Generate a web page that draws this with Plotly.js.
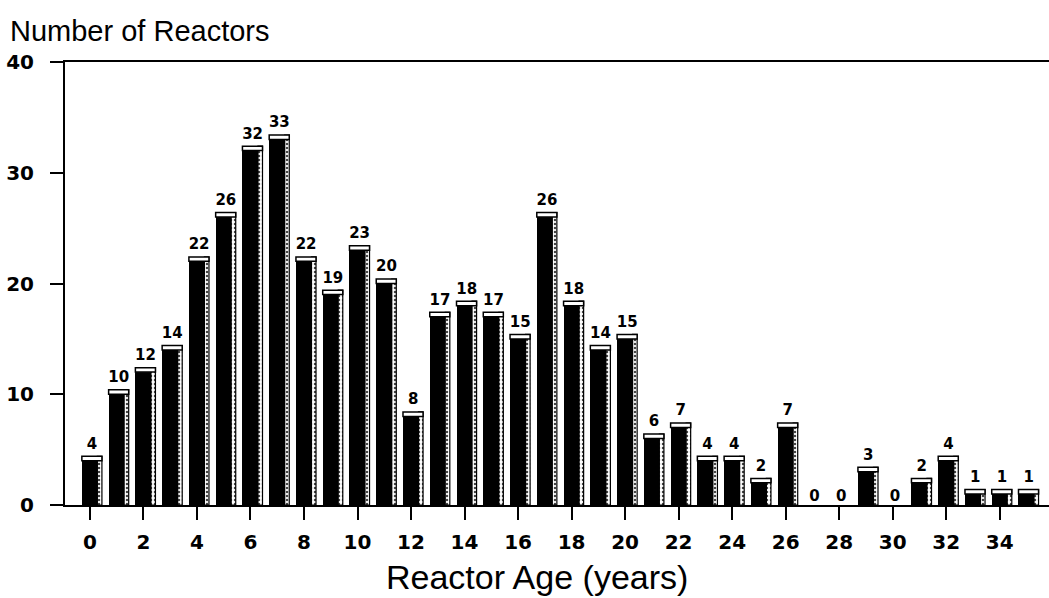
<!DOCTYPE html>
<html>
<head>
<meta charset="utf-8">
<script src="https://cdn.plot.ly/plotly-3.0.1.min.js"></script>
<style>body{margin:0;background:#fff}#chart{width:1049px;height:598px}</style>
</head>
<body>
<div id="chart"></div>
<script>
const ages = [0,1,2,3,4,5,6,7,8,9,10,11,12,13,14,15,16,17,18,19,20,21,22,23,24,25,26,27,28,29,30,31,32,33,34,35];
const reactors = [4,10,12,14,22,26,32,33,22,19,23,20,8,17,18,17,15,26,18,14,15,6,7,4,4,2,7,0,0,3,0,2,4,1,1,1];
const tickVals = [0,2,4,6,8,10,12,14,16,18,20,22,24,26,28,30,32,34];
const tickText = ['0','2','4','6','8','10','12','14','16','18','20','22','24','26','28','30','32','34'];
const yTicks = [0,10,20,30,40];

const CAP = 0.4;
const FONT = 'Liberation Sans, Arial, Helvetica, sans-serif';
const NUMFONT = 'DejaVu Sans, Verdana, sans-serif';

const front = {
  type: 'bar', x: ages, y: reactors, width: 0.58, offset: -0.3,
  marker: {color: '#000', line: {width: 0}}, hoverinfo: 'x+y', showlegend: false
};
const side = {
  type: 'bar', x: ages, y: reactors.map(v => v > 0 ? v + CAP : null), width: 0.17, offset: 0.28,
  marker: {color: '#fff', line: {color: '#000', width: 1.2},
           pattern: {shape: '.', fgcolor: '#444', bgcolor: '#fff', size: 4, solidity: 0.3}},
  hoverinfo: 'skip', showlegend: false
};
const cap = {
  type: 'bar', x: ages, y: reactors.map(v => v > 0 ? CAP : null), base: reactors,
  width: 0.75, offset: -0.3,
  marker: {color: '#fff', line: {color: '#000', width: 1.5}}, hoverinfo: 'skip', showlegend: false
};
const labels = {
  type: 'scatter', mode: 'text', x: ages.map(a => a + 0.08), y: reactors.map(v => v > 0 ? v + CAP + 0.35 : 0),
  text: reactors.map(String), textposition: 'top center',
  textfont: {family: NUMFONT, size: 15, color: '#000', weight: 'bold'},
  hoverinfo: 'skip', showlegend: false, cliponaxis: false
};

const layout = {
  width: 1049, height: 598,
  margin: {l: 65, r: 0, t: 62, b: 93},
  paper_bgcolor: '#fff', plot_bgcolor: '#fff',
  barmode: 'overlay', bargap: 0,
  font: {family: FONT, color: '#000'},
  xaxis: {
    range: [-0.93, 35.84], tickmode: 'array', tickvals: tickVals, ticktext: tickText,
    ticks: 'outside', ticklen: 13, tickwidth: 2, tickcolor: '#000',
    showline: true, linecolor: '#000', linewidth: 2, mirror: true,
    showgrid: false, zeroline: false, ticklabelstandoff: 5,
    tickfont: {family: NUMFONT, size: 20, weight: 'bold', color: '#000'}
  },
  yaxis: {
    range: [0, 40], tickmode: 'array', tickvals: yTicks,
    ticks: 'outside', ticklen: 13, tickwidth: 2, tickcolor: '#000',
    showline: true, linecolor: '#000', linewidth: 2,
    showgrid: false, zeroline: false, ticklabelstandoff: 12,
    tickfont: {family: NUMFONT, size: 20, weight: 'bold', color: '#000'}
  },
  annotations: [
    {text: 'Number of Reactors', xref: 'paper', yref: 'paper',
     x: -57/984, y: 1 + 31/443, xanchor: 'left', yanchor: 'middle', showarrow: false,
     font: {family: FONT, size: 29, color: '#000'}},
    {text: 'Reactor Age (years)', xref: 'paper', yref: 'paper',
     x: (537-65)/984, y: -(577-505)/443, xanchor: 'center', yanchor: 'middle', showarrow: false,
     font: {family: FONT, size: 34, color: '#000'}}
  ]
};

Plotly.newPlot('chart', [side, front, cap, labels], layout, {displayModeBar: false, staticPlot: true});
</script>
</body>
</html>
